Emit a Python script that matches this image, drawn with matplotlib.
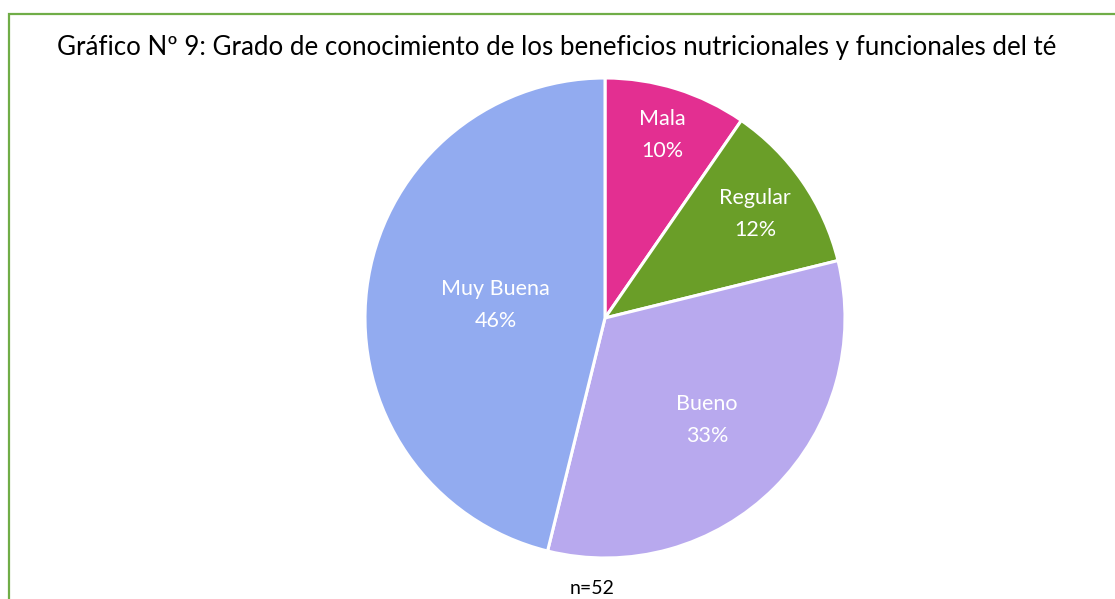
import numpy as np
from matplotlib import pyplot as plt
import matplotlib

plt.rcParams['font.family'] = ['Lato', 'DejaVu Sans']

# datos (n=52)
categorias = ['Mala', 'Regular', 'Bueno', 'Muy Buena']
frecuencia = [5, 6, 17, 24]
porcentaje = ['10%', '12%', '33%', '46%']
colores    = ['#E32F91', '#6A9E28', '#B8A9EE', '#92ABF0']
dist_etiq  = [0.80, 0.76, 0.60, 0.46]   # posicion de cada etiqueta (best fit)

fig = plt.figure(figsize=(11.15, 5.99), dpi=100)

# marco verde
marco = matplotlib.patches.Rectangle((9/1115., -0.1), 1.2, (599-13.5)/599. + 0.1,
                                     transform=fig.transFigure, fill=False,
                                     edgecolor='#70AD47', linewidth=1.6)
fig.patches.append(marco)

fig.text(557/1115., 1 - 48/599., 'Gráfico Nº 9: Grado de conocimiento de los beneficios nutricionales y funcionales del té',
         ha='center', va='center', fontsize=18.6, color='black')

ax = fig.add_axes([(605-240)/1115., (599-558)/599., 480/1115., 480/599.])
wedges, _ = ax.pie(frecuencia, colors=colores, startangle=90, counterclock=False,
                   radius=1, wedgeprops=dict(edgecolor='white', linewidth=2.2))

for w, cat, pc, d in zip(wedges, categorias, porcentaje, dist_etiq):
    ang = np.deg2rad((w.theta1 + w.theta2) / 2.)
    ax.text(d*np.cos(ang), d*np.sin(ang), cat + '\n' + pc, ha='center', va='center',
            color='white', fontsize=15.5, linespacing=1.75)

ax.set_xlim(-1, 1)
ax.set_ylim(-1, 1)
ax.set_aspect('equal')
ax.axis('off')

fig.text(592/1115., 1 - 588/599., 'n=52', ha='center', va='center', fontsize=14)

plt.savefig('out.png', dpi=100)
